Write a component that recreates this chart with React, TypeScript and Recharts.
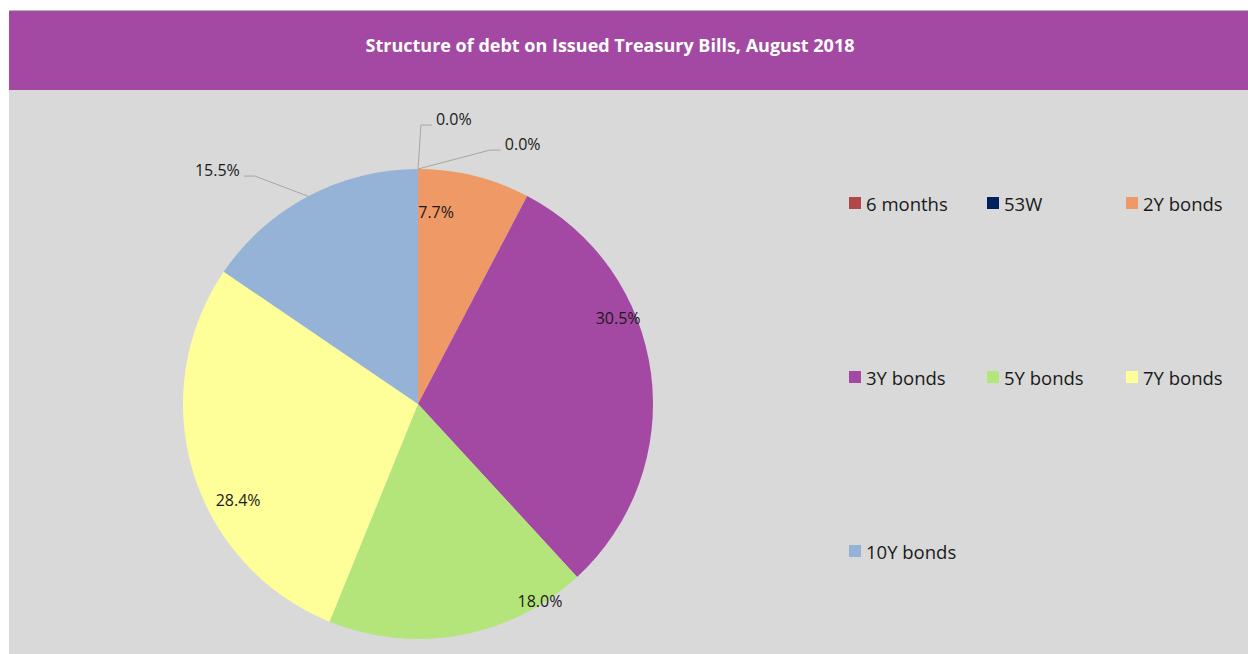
import { PieChart, Pie, Cell, Legend } from 'recharts'

const title = 'Structure of debt on Issued Treasury Bills, August 2018'
const categories = ['6 months', '53W', '2Y bonds', '3Y bonds', '5Y bonds', '7Y bonds', '10Y bonds']
const shares = [0.0, 0.0, 7.7, 30.5, 18.0, 28.4, 15.5]
const colors = ['#B0484A', '#002060', '#EE9966', '#A349A4', '#B3E57B', '#FFFF99', '#95B3D7']

const data = categories.map((name, i) => ({ name, value: shares[i] }))

const RAD = Math.PI / 180
const polar = (cx: number, cy: number, r: number, deg: number) => ({
  x: cx + r * Math.cos(deg * RAD),
  y: cy - r * Math.sin(deg * RAD),
})

// where each data label sits (angle in degrees, radius as share of the pie radius)
const placement: { angle: number; r: number; out?: 'left' | 'right' }[] = [
  { angle: 89.4, r: 1.187, out: 'right' },
  { angle: 74.2, r: 1.123, out: 'right' },
  { angle: 84.6, r: 0.82 },
  { angle: 23.3, r: 0.927 },
  { angle: -58.2, r: 0.985 },
  { angle: 208.1, r: 0.868 },
  { angle: 125.6, r: 1.193, out: 'left' },
]

const font = '"Open Sans", sans-serif'

const renderLabel = (props: any) => {
  const { cx, cy, midAngle, outerRadius, index, value } = props
  const p = placement[index]
  const text = `${Number(value).toFixed(1)}%`
  const pos = polar(cx, cy, outerRadius * p.r, p.angle)
  if (!p.out) {
    return (
      <text x={pos.x} y={pos.y} textAnchor="middle" dominantBaseline="central"
        fill="#1A1A1A" fontSize={16} fontFamily={font}>
        {text}
      </text>
    )
  }
  const start = polar(cx, cy, outerRadius, midAngle)
  const dir = p.out === 'right' ? 1 : -1
  const end = { x: pos.x + dir * 11, y: pos.y }
  return (
    <g>
      <polyline points={`${start.x},${start.y} ${pos.x},${pos.y} ${end.x},${end.y}`}
        fill="none" stroke="#A6A6A6" strokeWidth={1} />
      <text x={end.x + dir * 4} y={end.y - 6} textAnchor={dir > 0 ? 'start' : 'end'}
        dominantBaseline="central" fill="#1A1A1A" fontSize={16} fontFamily={font}>
        {text}
      </text>
    </g>
  )
}

const renderLegend = () => (
  <div style={{ display: 'grid', gridTemplateColumns: '138px 139px 120px', gridAutoRows: '174px', fontFamily: font }}>
    {categories.map((name, i) => (
      <div key={name} style={{ display: 'flex', alignItems: 'center', height: 24 }}>
        <span style={{ width: 12, height: 12, background: colors[i], marginRight: 5, flex: 'none' }} />
        <span style={{ fontSize: 18.5, color: '#1A1A1A', whiteSpace: 'nowrap' }}>{name}</span>
      </div>
    ))}
  </div>
)

export default function App() {
  return (
    <div style={{ position: 'absolute', left: 0, top: 0, width: 1248, height: 654, background: '#fff', overflow: 'hidden' }}>
      <div style={{ position: 'absolute', left: 9, top: 10, width: 1239, height: 644, background: '#D9D9D9', borderTop: '1px solid #B8B8B8' }} />
      <div style={{ position: 'absolute', left: 9, top: 11, width: 1239, height: 79, background: '#A349A4' }}>
        <div style={{ position: 'absolute', left: 0, width: 1202, top: 22, lineHeight: '24px', textAlign: 'center',
          color: '#fff', fontWeight: 700, fontSize: 18, fontFamily: font }}>
          {title}
        </div>
      </div>
      <div style={{ position: 'absolute', left: 0, top: 0 }}>
        <PieChart width={1248} height={654} margin={{ top: 0, right: 0, bottom: 0, left: 0 }}>
          <Pie data={data} dataKey="value" nameKey="name" cx={418} cy={404} outerRadius={235}
            startAngle={90} endAngle={-270} stroke="none" label={renderLabel} labelLine={false}
            isAnimationActive={false}>
            {data.map((d, i) => <Cell key={d.name} fill={colors[i]} />)}
          </Pie>
          <Legend content={renderLegend} wrapperStyle={{ position: 'absolute', left: 849, top: 191, width: 400 }} />
        </PieChart>
      </div>
    </div>
  )
}
